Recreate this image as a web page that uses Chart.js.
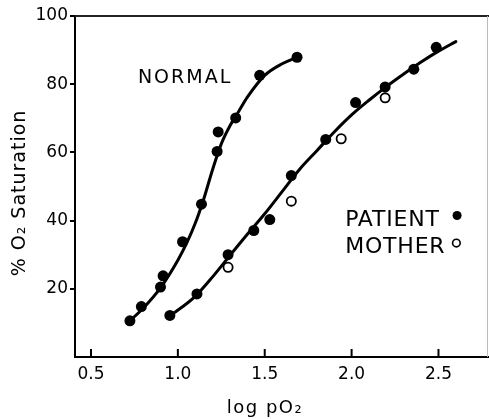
<!DOCTYPE html>
<html><head><meta charset="utf-8">
<script src="https://cdn.jsdelivr.net/npm/chart.js@4"></script>
<style>html,body{margin:0;padding:0;background:#fff;} #c{display:block;}</style>
</head><body>
<canvas id="c" width="489" height="419"></canvas>
<script>
// ---- data ----
const xTickValues = [0.5, 1.0, 1.5, 2.0, 2.5];
const yTickValues = [20, 40, 60, 80, 100];

const normalX = [0.724, 0.79, 0.90, 0.915, 1.027, 1.136, 1.226, 1.232, 1.333, 1.471, 1.686];
const normalY = [10.6, 14.8, 20.5, 23.8, 33.8, 44.8, 60.3, 66.0, 70.1, 82.6, 87.9];

const patientX = [0.954, 1.11, 1.289, 1.437, 1.529, 1.653, 1.851, 2.023, 2.193, 2.358, 2.487];
const patientY = [12.2, 18.5, 30.0, 37.1, 40.3, 53.2, 63.8, 74.6, 79.2, 84.4, 90.8];

const motherX = [1.289, 1.653, 1.94, 2.193];
const motherY = [26.3, 45.7, 64.0, 76.0];

// fitted curves as traced on the picture
const normalCurveX = [0.724, 0.8, 0.9, 1.0, 1.05, 1.1, 1.15, 1.2, 1.25, 1.3, 1.35, 1.4, 1.5, 1.6, 1.686];
const normalCurveY = [10.6, 14.3, 20.3, 28.4, 33.3, 39.2, 46.5, 55.0, 62.5, 67.8, 72.0, 76.2, 82.6, 86.0, 87.9];

const patientCurveX = [0.954, 1.1, 1.2, 1.3, 1.4, 1.5, 1.6, 1.7, 1.8, 1.9, 2.0, 2.1, 2.2, 2.3, 2.4, 2.5, 2.6];
const patientCurveY = [12.0, 17.8, 23.5, 29.8, 36.0, 42.0, 48.5, 55.0, 60.5, 66.0, 71.0, 75.3, 79.3, 83.0, 86.5, 89.7, 92.5];

const labelNormal = 'NORMAL';
const labelPatient = 'PATIENT';
const labelMother = 'MOTHER';
const xTitle = 'log pO\u2082';
const yTitle = '% O\u2082 Saturation';

function pts(xs, ys) { return xs.map((x, i) => ({ x: x, y: ys[i] })); }

const FONT = '"DejaVu Sans", "Liberation Sans", sans-serif';

const decor = {
  id: 'decor',
  afterDraw(chart) {
    const ctx = chart.ctx, a = chart.chartArea;
    const xs = chart.scales.x, ys = chart.scales.y;
    ctx.save();
    // inward x ticks
    ctx.strokeStyle = '#000'; ctx.lineWidth = 2;
    xs.ticks.forEach(t => {
      const px = xs.getPixelForValue(t.value);
      ctx.beginPath(); ctx.moveTo(px, a.bottom); ctx.lineTo(px, a.bottom - 8); ctx.stroke();
    });
    // top frame line
    ctx.strokeStyle = '#222'; ctx.lineWidth = 2;
    ctx.beginPath(); ctx.moveTo(a.left, a.top); ctx.lineTo(chart.width, a.top); ctx.stroke();
    // right frame line (faint)
    ctx.strokeStyle = '#bbb'; ctx.lineWidth = 1;
    ctx.beginPath(); ctx.moveTo(a.right - 0.5, a.top); ctx.lineTo(a.right - 0.5, a.bottom); ctx.stroke();

    ctx.fillStyle = '#000';
    ctx.textBaseline = 'alphabetic';
    ctx.textAlign = 'left';
    // NORMAL
    ctx.font = '19px ' + FONT; ctx.letterSpacing = '2px';
    ctx.fillText(labelNormal, xs.getPixelForValue(0.77), ys.getPixelForValue(80.4));
    // PATIENT / MOTHER
    ctx.font = '22px ' + FONT; ctx.letterSpacing = '0.8px';
    ctx.fillText(labelPatient, xs.getPixelForValue(1.963), ys.getPixelForValue(38.3));
    ctx.fillText(labelMother, xs.getPixelForValue(1.963), ys.getPixelForValue(30.6));
    // legend markers
    ctx.beginPath();
    ctx.arc(xs.getPixelForValue(2.607), ys.getPixelForValue(41.5), 4.5, 0, Math.PI * 2);
    ctx.fill();
    ctx.beginPath();
    ctx.lineWidth = 1.6; ctx.strokeStyle = '#000';
    ctx.arc(xs.getPixelForValue(2.603), ys.getPixelForValue(33.4), 3.8, 0, Math.PI * 2);
    ctx.stroke();

    // axis titles
    ctx.font = '18px ' + FONT; ctx.letterSpacing = '1.5px';
    ctx.textAlign = 'center';
    ctx.fillText(xTitle, 265, 413);
    ctx.save();
    ctx.translate(25, 193);
    ctx.rotate(-Math.PI / 2);
    ctx.font = '19px ' + FONT; ctx.letterSpacing = '1px';
    ctx.fillText(yTitle, 0, 0);
    ctx.restore();
    ctx.restore();
  }
};

new Chart(document.getElementById('c'), {
  type: 'scatter',
  data: {
    datasets: [
      { label: 'Normal', data: pts(normalX, normalY), order: 0,
        pointRadius: 5.5, pointBackgroundColor: '#000', pointBorderColor: '#000', pointBorderWidth: 0, showLine: false },
      { label: 'Patient', data: pts(patientX, patientY), order: 0,
        pointRadius: 5.5, pointBackgroundColor: '#000', pointBorderColor: '#000', pointBorderWidth: 0, showLine: false },
      { label: 'Mother', data: pts(motherX, motherY), order: 0,
        pointRadius: 4.6, pointBackgroundColor: '#fff', pointBorderColor: '#000', pointBorderWidth: 1.8, showLine: false },
      { label: 'Normal curve', data: pts(normalCurveX, normalCurveY), order: 1,
        showLine: true, pointRadius: 0, borderColor: '#000', borderWidth: 3, cubicInterpolationMode: 'monotone', borderCapStyle: 'round' },
      { label: 'Patient curve', data: pts(patientCurveX, patientCurveY), order: 1,
        showLine: true, pointRadius: 0, borderColor: '#000', borderWidth: 3, cubicInterpolationMode: 'monotone', borderCapStyle: 'round' }
    ]
  },
  options: {
    responsive: false,
    animation: false,
    devicePixelRatio: 1,
    layout: { autoPadding: false, padding: { left: 0, right: 1, top: 16, bottom: 0 } },
    plugins: { legend: { display: false }, tooltip: { enabled: false } },
    scales: {
      x: {
        type: 'linear', position: 'bottom', min: 0.408, max: 2.785,
        afterBuildTicks: s => { s.ticks = xTickValues.map(v => ({ value: v })); },
        afterFit: s => { s.height = 62; s.paddingLeft = 0; s.paddingRight = 0; },
        grid: { display: false, drawTicks: false },
        border: { display: true, color: '#000', width: 2 },
        ticks: { padding: 7, color: '#000', font: { family: FONT, size: 17 },
                 callback: v => Number(v).toFixed(1) }
      },
      y: {
        type: 'linear', position: 'left', min: 0, max: 100,
        afterBuildTicks: s => { s.ticks = yTickValues.map(v => ({ value: v })); },
        afterFit: s => { s.width = 75; s.paddingTop = 0; s.paddingBottom = 0; },
        grid: { drawOnChartArea: false, drawTicks: true, tickLength: 5, color: '#000', lineWidth: 2 },
        border: { display: true, color: '#000', width: 2 },
        ticks: { padding: 2, color: '#000', font: { family: FONT, size: 17 },
                 callback: v => String(v) }
      }
    }
  },
  plugins: [decor]
});
</script>
</body></html>
